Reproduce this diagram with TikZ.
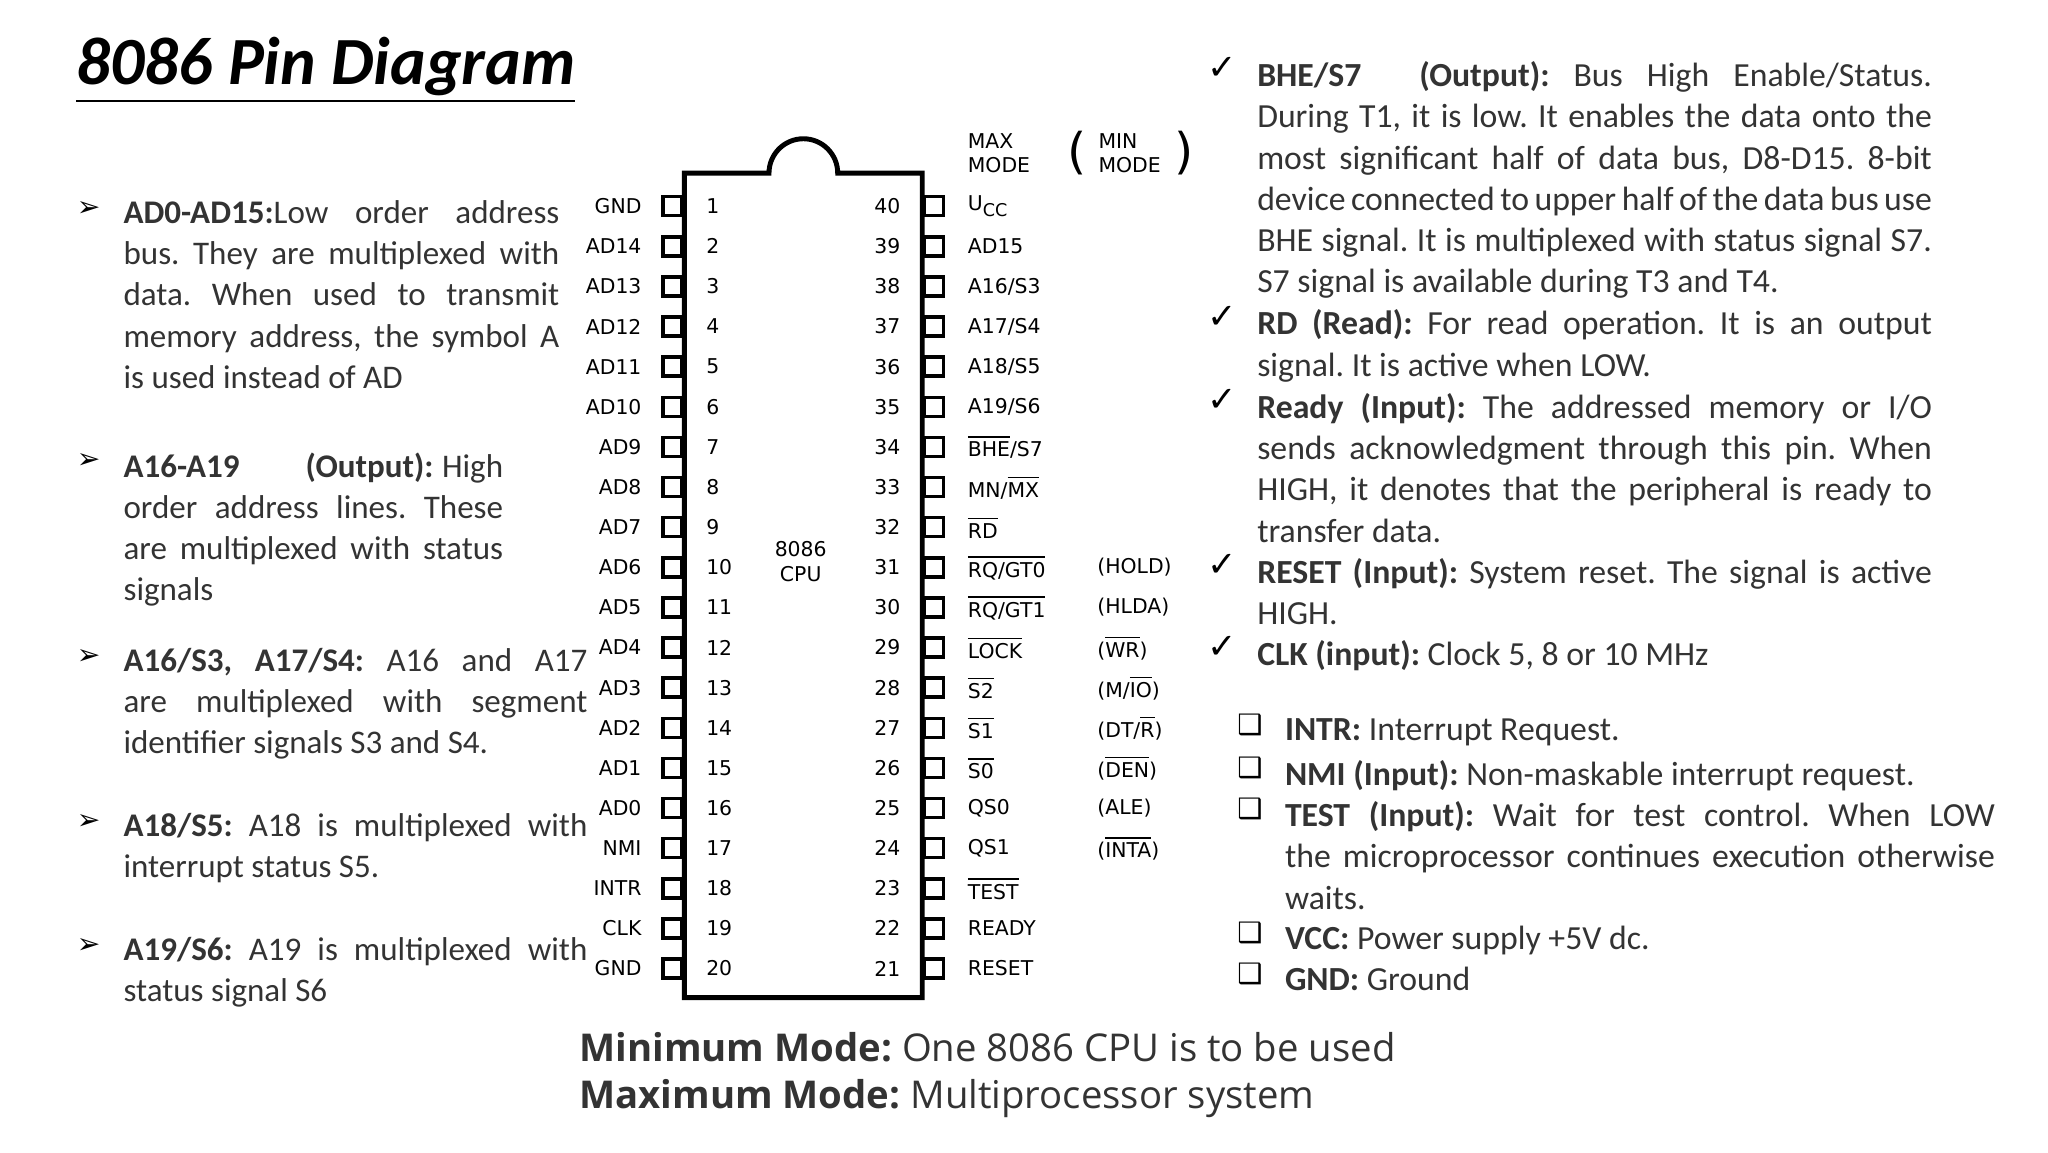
\documentclass[tikz,border=0pt]{standalone}
\usepackage{fontspec}
\setmainfont{Carlito}
\newfontfamily\chipf{DejaVu Sans}
\newfontfamily\symf{DejaVu Sans}
\newfontfamily\botf{Open Sans}
\newcommand{\myol}[1]{$\overline{\hbox{#1}}$}
\frenchspacing
\hyphenpenalty=10000
\exhyphenpenalty=10000
\begin{document}
\begin{tikzpicture}[x=0.013213cm,y=-0.013213cm,
  txt/.style={anchor=north west,inner sep=0,align=justify,font=\fontsize{9.4}{11.75}\selectfont,text=black!80},
  rtxt/.style={txt,font=\fontsize{9.6}{11.75}\selectfont},
  bul/.style={anchor=center,inner sep=0,font=\symf\fontsize{8}{9}\selectfont},
  chk/.style={anchor=center,inner sep=0,font=\symf\fontsize{10}{10}\selectfont},
  pin/.style={draw,line width=1pt,minimum width=5.4pt,minimum height=5.4pt,inner sep=0},
  cl/.style={inner sep=0,font=\chipf\fontsize{5.8}{7}\selectfont}]
\useasboundingbox (0,0) rectangle (1550,872);
\node[anchor=base west,inner sep=0,font=\fontsize{19.2}{22}\bfseries\itshape\selectfont] (title) at (57,64) {\underline{8086 Pin Diagram}};
% chip body
\draw[line width=1.4pt] (518,131) -- (582,131) arc[start angle=180,end angle=360,radius=26] -- (698,131) -- (698,755) -- (518,755) -- cycle;
\node[cl,align=center] (cpu) at (606,425) {8086\\CPU};
\foreach \n [count=\i] in {GND,AD14,AD13,AD12,AD11,AD10,AD9,AD8,AD7,AD6,AD5,AD4,AD3,AD2,AD1,AD0,NMI,INTR,CLK,GND}{
  \pgfmathsetmacro\yy{156+(\i-1)*30.37}
  \node[pin] (lp\i) at (509,\yy) {};
  \node[cl,anchor=east] (ll\i) at (486,\yy) {\n};
  \node[cl,anchor=west] (ln\i) at (534,\yy) {\i};
}
\foreach \n [count=\i] in {U\textsubscript{\tiny CC},AD15,A16/S3,A17/S4,A18/S5,A19/S6,\myol{BHE}/S7,MN/\myol{MX},\myol{RD},\myol{RQ/GT0},\myol{RQ/GT1},\myol{LOCK},\myol{S2},\myol{S1},\myol{S0},QS0,QS1,\myol{TEST},READY,RESET}{
  \pgfmathsetmacro\yy{156+(\i-1)*30.37}
  \pgfmathtruncatemacro\pn{41-\i}
  \node[pin] (rp\i) at (707,\yy) {};
  \node[cl,anchor=west] (rl\i) at (732,\yy) {\n};
  \node[cl,anchor=east] (rn\i) at (682,\yy) {\pn};
}
\foreach \n [count=\i from 10] in {(HOLD),(HLDA),(\myol{WR}),(M/\myol{IO}),(DT/\myol{R}),(\myol{DEN}),(ALE),(\myol{INTA})}{
  \pgfmathsetmacro\yy{156+(\i-1)*30.37}
  \node[cl,anchor=west] (mm\i) at (830,\yy) {\n};
}
\node[cl,align=left,anchor=west] (maxm) at (732,116) {MAX\\MODE};
\node[inner sep=0,font=\chipf\fontsize{14}{14}\selectfont] (lpar) at (815,116) {(};
\node[cl,align=left] (minm) at (855,116) {MIN\\MODE};
\node[inner sep=0,font=\chipf\fontsize{14}{14}\selectfont] (rpar) at (896,116) {)};
% left texts
\node[bul] (b1) at (67,158) {➢};
\node[txt,text width=124pt] (t1) at (93,151) {\textbf{AD0-AD15:}Low order address bus. They are multiplexed with data. When used to transmit memory address, the symbol A is used instead of AD};
\node[bul] (b2) at (67,349) {➢};
\node[txt,text width=108pt] (t2) at (93,342) {\textbf{A16-A19}\hspace{2em}\textbf{(Output):} High order address lines. These are multiplexed with status signals};
\node[bul] (b3) at (67,497) {➢};
\node[txt,text width=132pt] (t3) at (93,490) {\textbf{A16/S3, A17/S4:} A16 and A17 are multiplexed with segment identifier signals S3 and S4.};
\node[bul] (b4) at (67,622) {➢};
\node[txt,text width=132pt] (t4) at (93,615) {\textbf{A18/S5:} A18 is multiplexed with interrupt status S5.};
\node[bul] (b5) at (67,716) {➢};
\node[txt,text width=132pt] (t5) at (93,709) {\textbf{A19/S6:} A19 is multiplexed with status signal S6};
% right texts
\node[chk] (c1) at (925,52) {✓};
\node[rtxt,text width=192pt] (r1) at (951,46) {\textbf{BHE/S7\hspace{1em} (Output):} Bus High Enable/Status. During T1, it is low. It enables the data onto the most significant half of data bus, D8-D15. 8-bit device connected to upper half of the data bus use BHE signal. It is multiplexed with status signal S7. S7 signal is available during T3 and T4.};
\node[chk] (c2) at (925,240) {✓};
\node[rtxt,text width=192pt] (r2) at (951,234) {\textbf{RD (Read):} For read operation. It is an output signal. It is active when LOW.};
\node[chk] (c3) at (925,303) {✓};
\node[rtxt,text width=192pt] (r3) at (951,297) {\textbf{Ready (Input):} The addressed memory or I/O sends acknowledgment through this pin. When HIGH, it denotes that the peripheral is ready to transfer data.};
\node[chk] (c4) at (925,428) {✓};
\node[rtxt,text width=192pt] (r4) at (951,422) {\textbf{RESET (Input):} System reset. The signal is active HIGH.};
\node[chk] (c5) at (925,490) {✓};
\node[rtxt,text width=192pt] (r5) at (951,484) {\textbf{CLK (input):} Clock 5, 8 or 10 MHz};
\foreach \yy/\t [count=\i] in {556/{\textbf{INTR:} Interrupt Request.},588/{\textbf{NMI (Input):} Non-maskable interrupt request.},619/{\textbf{TEST (Input):} Wait for test control. When LOW the microprocessor continues execution otherwise waits.},713/{\textbf{VCC:} Power supply +5V dc.},744/{\textbf{GND:} Ground}}{
  \node[bul] (q\i) at (946,\yy-7) {❑};
  \node[rtxt,text width=202pt] (s\i) at (972,\yy-13) {\t};
}
\node[anchor=north west,inner sep=0,align=left,font=\botf\fontsize{10.9}{13.2}\selectfont,text=black!80] (bot) at (438,781) {\textbf{Minimum Mode:} One 8086 CPU is to be used\\\textbf{Maximum Mode:} Multiprocessor system};
\end{tikzpicture}
\end{document}
